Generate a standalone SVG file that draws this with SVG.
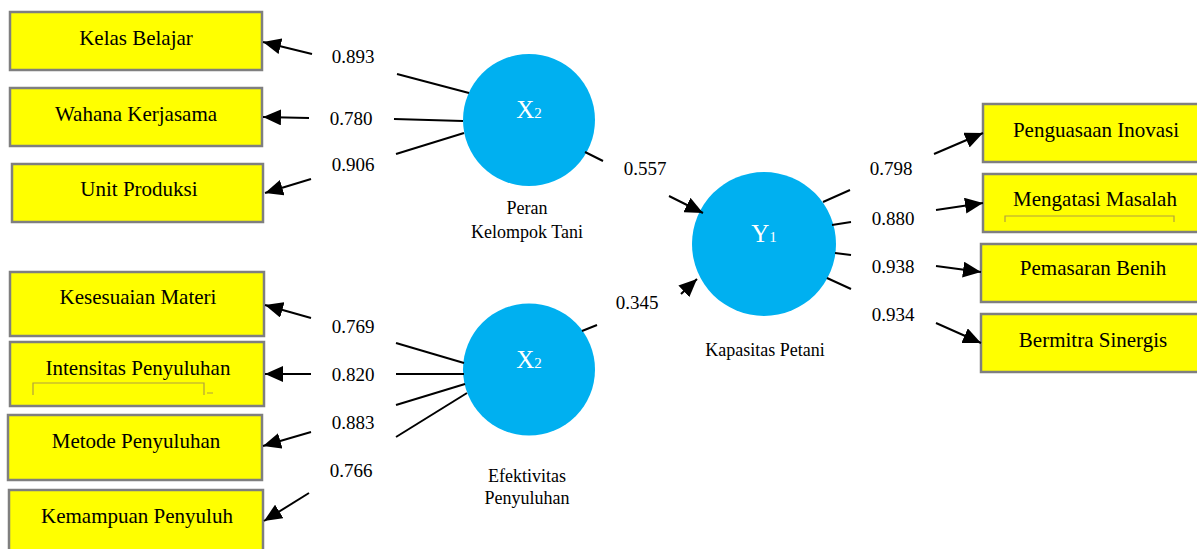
<svg xmlns="http://www.w3.org/2000/svg" width="1197" height="549" viewBox="0 0 1197 549">
  <style>
    .box { fill: #ffff00; stroke: #7f7f7f; stroke-width: 2.5; }
    .lbl { font-family: "Liberation Serif", "Times New Roman", serif; font-size: 21px; fill: #000; text-anchor: middle; }
    .num { font-family: "Liberation Serif", "Times New Roman", serif; font-size: 19px; fill: #000; text-anchor: middle; }
    .cap { font-family: "Liberation Serif", "Times New Roman", serif; font-size: 18px; fill: #000; text-anchor: middle; }
    .lv { fill: #00b0f0; }
    .lvt { font-family: "Liberation Serif", "Times New Roman", serif; font-size: 25px; fill: #ffffff; text-anchor: middle; }
    .ln { stroke: #000; stroke-width: 2; fill: none; }
    .arr { stroke: #000; stroke-width: 2; fill: none; marker-end: url(#head); }
    .brk { stroke: #b0a040; stroke-width: 1.2; fill: none; }
  </style>
  <defs>
    <marker id="head" markerUnits="userSpaceOnUse" markerWidth="20" markerHeight="16" refX="18" refY="8" orient="auto">
      <path d="M0,0 L18,8 L0,16 Z" fill="#000"/>
    </marker>
  </defs>

  <rect width="1197" height="549" fill="#ffffff"/>

  <!-- indicators of Peran Kelompok Tani -->
  <g id="kelas-belajar">
    <rect class="box" x="10" y="12" width="252" height="58"/>
    <text class="lbl" x="136" y="45">Kelas Belajar</text>
  </g>
  <g id="wahana-kerjasama">
    <rect class="box" x="10" y="88" width="252" height="58"/>
    <text class="lbl" x="136" y="121">Wahana Kerjasama</text>
  </g>
  <g id="unit-produksi">
    <rect class="box" x="12" y="164" width="251" height="58"/>
    <text class="lbl" x="139" y="196">Unit Produksi</text>
  </g>

  <!-- indicators of Efektivitas Penyuluhan -->
  <g id="kesesuaian-materi">
    <rect class="box" x="10" y="272" width="254" height="64"/>
    <text class="lbl" x="138" y="304">Kesesuaian Materi</text>
  </g>
  <g id="intensitas-penyuluhan">
    <rect class="box" x="10" y="342" width="254" height="64"/>
    <text class="lbl" x="138" y="375">Intensitas Penyuluhan</text>
    <path class="brk" d="M33,395 V383 H204 V395 M207,393 H213"/>
  </g>
  <g id="metode-penyuluhan">
    <rect class="box" x="8" y="415" width="254" height="65"/>
    <text class="lbl" x="136" y="448">Metode Penyuluhan</text>
  </g>
  <g id="kemampuan-penyuluh">
    <rect class="box" x="9" y="490" width="254" height="66"/>
    <text class="lbl" x="137" y="523">Kemampuan Penyuluh</text>
  </g>

  <!-- indicators of Kapasitas Petani -->
  <g id="penguasaan-inovasi">
    <rect class="box" x="983" y="104" width="222" height="58"/>
    <text class="lbl" x="1096" y="137">Penguasaan Inovasi</text>
  </g>
  <g id="mengatasi-masalah">
    <rect class="box" x="983" y="174" width="222" height="58"/>
    <text class="lbl" x="1095" y="206">Mengatasi Masalah</text>
    <path class="brk" d="M1005,222 V216 H1174 V222"/>
  </g>
  <g id="pemasaran-benih">
    <rect class="box" x="981" y="244" width="224" height="58"/>
    <text class="lbl" x="1093" y="275">Pemasaran Benih</text>
  </g>
  <g id="bermitra-sinergis">
    <rect class="box" x="981" y="314" width="224" height="58"/>
    <text class="lbl" x="1093" y="347">Bermitra Sinergis</text>
  </g>

  <!-- latent variables -->
  <g id="peran-kelompok-tani">
    <ellipse class="lv" cx="529" cy="120" rx="66" ry="66"/>
    <text class="lvt" x="529" y="118">X<tspan font-size="15">2</tspan></text>
    <text class="cap" x="527" y="214">Peran</text>
    <text class="cap" x="527" y="238">Kelompok Tani</text>
  </g>
  <g id="efektivitas-penyuluhan">
    <ellipse class="lv" cx="529" cy="369.5" rx="66" ry="66"/>
    <text class="lvt" x="529" y="368">X<tspan font-size="15">2</tspan></text>
    <text class="cap" x="527" y="482">Efektivitas</text>
    <text class="cap" x="527" y="504">Penyuluhan</text>
  </g>
  <g id="kapasitas-petani">
    <ellipse class="lv" cx="764" cy="244" rx="72" ry="72"/>
    <text class="lvt" x="764" y="242">Y<tspan font-size="15">1</tspan></text>
    <text class="cap" x="765" y="356">Kapasitas Petani</text>
  </g>

  <!-- connectors and loadings -->
  <g id="connectors">
    <line class="ln" x1="469" y1="93" x2="397" y2="74"/>
    <line class="arr" x1="312" y1="54" x2="263" y2="42"/>
    <line class="ln" x1="463" y1="121" x2="394" y2="119"/>
    <line class="arr" x1="309" y1="118" x2="263" y2="117"/>
    <line class="ln" x1="464" y1="133" x2="396" y2="154"/>
    <line class="arr" x1="311" y1="179" x2="265" y2="193"/>

    <line class="ln" x1="464" y1="363" x2="396" y2="343"/>
    <line class="arr" x1="311" y1="318" x2="265" y2="305"/>
    <line class="ln" x1="464" y1="374" x2="396" y2="374"/>
    <line class="arr" x1="311" y1="374" x2="265" y2="374"/>
    <line class="ln" x1="465" y1="384" x2="396" y2="405"/>
    <line class="arr" x1="311" y1="432" x2="263" y2="446"/>
    <line class="ln" x1="467" y1="393" x2="396" y2="437"/>
    <line class="arr" x1="309" y1="493" x2="264" y2="521"/>

    <line class="ln" x1="585" y1="152" x2="603" y2="161"/>
    <line class="arr" x1="669" y1="196" x2="703" y2="213"/>
    <line class="ln" x1="582" y1="331" x2="597" y2="325"/>
    <line class="arr" x1="681" y1="294" x2="697" y2="279"/>

    <line class="ln" x1="823" y1="202" x2="850" y2="190"/>
    <line class="arr" x1="934" y1="154" x2="983" y2="133"/>
    <line class="ln" x1="832" y1="225" x2="851" y2="222"/>
    <line class="arr" x1="936" y1="210" x2="983" y2="203"/>
    <line class="ln" x1="835" y1="253" x2="851" y2="255"/>
    <line class="arr" x1="936" y1="266" x2="981" y2="272"/>
    <line class="ln" x1="827" y1="278" x2="851" y2="289"/>
    <line class="arr" x1="936" y1="323" x2="981" y2="343"/>

    <text class="num" x="353" y="63">0.893</text>
    <text class="num" x="351" y="125">0.780</text>
    <text class="num" x="353" y="171">0.906</text>
    <text class="num" x="353" y="333">0.769</text>
    <text class="num" x="353" y="381">0.820</text>
    <text class="num" x="353" y="429">0.883</text>
    <text class="num" x="351" y="477">0.766</text>
    <text class="num" x="645" y="175">0.557</text>
    <text class="num" x="637" y="309">0.345</text>
    <text class="num" x="891" y="175">0.798</text>
    <text class="num" x="893" y="225">0.880</text>
    <text class="num" x="893" y="273">0.938</text>
    <text class="num" x="893" y="321">0.934</text>
  </g>
</svg>
